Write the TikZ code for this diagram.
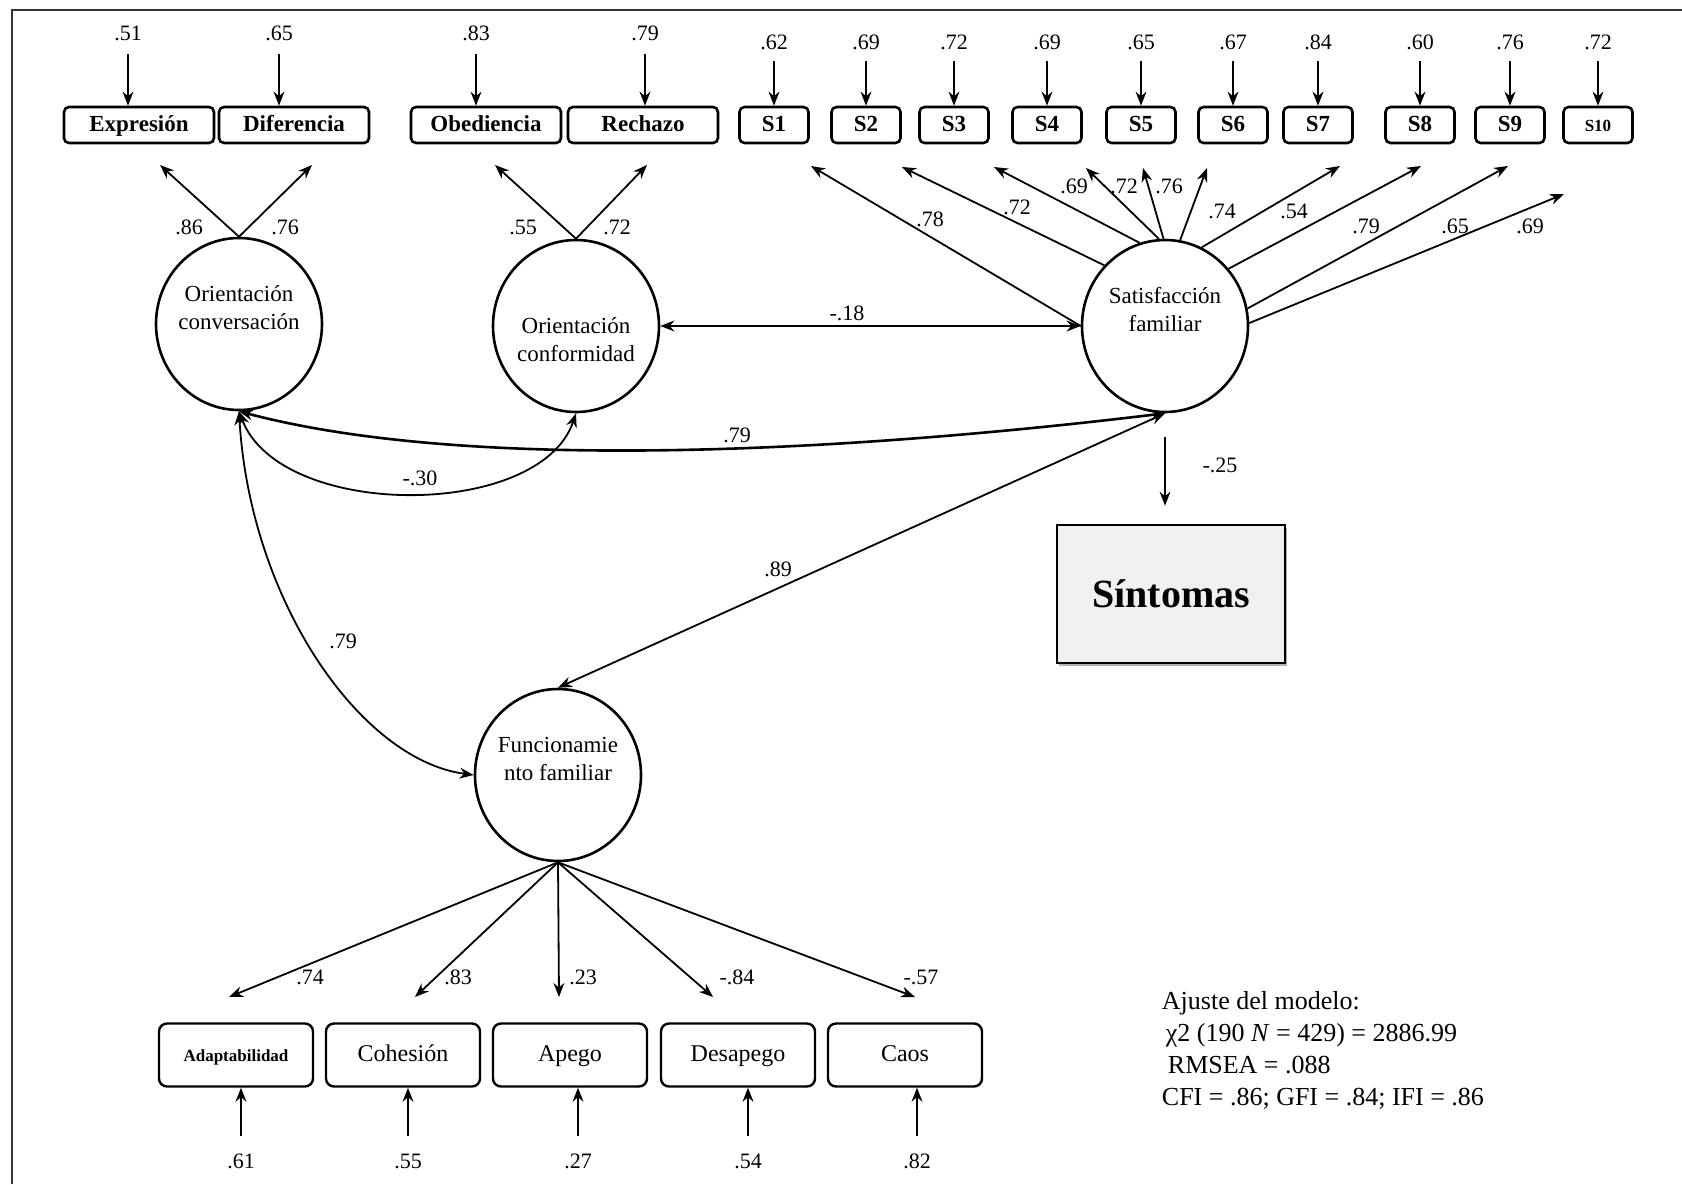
\documentclass[tikz,border=0pt]{standalone}
\usepackage{fontspec}
\setmainfont{Liberation Serif}
\usetikzlibrary{arrows.meta, shapes.geometric, shadows}
\tikzset{
    every node/.append style={font=\fontsize{11}{12}\selectfont}}

\begin{document}
\begin{tikzpicture}
  [x=0.5pt, y=-0.5pt, >={Stealth[length=7pt, width=5.4pt]}, line width=0.9pt,
   lat/.style={ellipse, draw, line width=1.3pt, minimum width=83pt,
     minimum height=86pt, inner sep=0pt, inner xsep=-3pt, align=center,
     font=\fontsize{11.5}{14}\selectfont},
   obs/.style={draw, rounded corners=2.5pt, line width=1.3pt,
     minimum height=18pt, inner sep=0pt, text height=8pt, text depth=2pt,
     font=\fontsize{11.5}{13}\selectfont\bfseries},
   ind/.style={draw, rounded corners=4pt, line width=1.2pt,
     minimum width=77pt, minimum height=31.5pt, inner sep=0pt,
     text height=8.5pt, text depth=2.5pt,
     font=\fontsize{12}{14}\selectfont},
   num/.style={inner sep=1pt}
  ]
  \useasboundingbox (0,0) rectangle (1682,1184);
  \draw [black!80, line width=1pt] (12,1184) -- (12,10) -- (1682,10);

  % latent variables
  \node [lat] (oc) at (239,324) {Orientación\\conversación\\[-2pt]\strut};
  \node [lat] (of) at (576,326) {\strut\\[-2pt]Orientación\\conformidad};
  \node [lat] (sf) at (1165,326) {Satisfacción\\familiar\\[-2pt]\strut};
  \node [lat] (ff) at (558,775) {Funcionamie\\nto familiar\\[-2pt]\strut};

  % indicators, top
  \node [obs, minimum width=75pt] (x1) at (139,125) {Expresión};
  \node [obs, minimum width=75pt] (x2) at (294,125) {Diferencia};
  \node [obs, minimum width=75pt] (x3) at (486,125) {Obediencia};
  \node [obs, minimum width=75pt] (x4) at (643,125) {Rechazo};
  \node [num] (e1) at (128,33) {.51};
  \node [num] (e2) at (279,33) {.65};
  \node [num] (e3) at (476,33) {.83};
  \node [num] (e4) at (645,33) {.79};
  \foreach \from/\to/\w in {e1/x1/1,e2/x2/1.4,e3/x3/1,e4/x4/1.4}
    \draw [->, line width=\w pt, shorten <=5.5pt] (\from) -- (\from |- \to.north);

  \foreach \i/\x/\v/\w in {1/774/.62/1.4, 2/866/.69/0.9, 3/954/.72/0.9,
      4/1047/.69/1.4, 5/1141/.65/0.9, 6/1233/.67/0.9, 7/1318/.84/1.4,
      8/1420/.60/1.4, 9/1510/.76/1.4}{
    \node [obs, minimum width=34.5pt] (s\i) at (\x,125) {S\i};
    \node [num] (es\i) at (\x,42) {\v};
    \draw [->, line width=\w pt, shorten <=4.5pt] (es\i) -- (s\i);
  }
  \node [obs, minimum width=34.5pt, font=\fontsize{8.5}{10}\selectfont\bfseries]
    (s10) at (1598,125) {S10};
  \node [num] (es10) at (1598,42) {.72};
  \draw [->, shorten <=4.5pt] (es10) -- (s10);

  % loadings
  \coordinate (a1) at (160,165);
  \coordinate (a2) at (312,165);
  \coordinate (a3) at (495,165);
  \coordinate (a4) at (647,165);
  \foreach \from/\to in {oc/a1,oc/a2,of/a3,of/a4}
    \draw [->] (\from.north) -- (\to);
  \node [num] (l1) at (189,227) {.86};
  \node [num] (l2) at (285,227) {.76};
  \node [num] (l3) at (523,227) {.55};
  \node [num] (l4) at (617,227) {.72};

  \foreach \x/\y [count=\i] in {811/166, 902/167, 994/167, 1086/168,
      1143/168, 1207/168, 1340/166, 1421/166, 1508/166, 1564/194}
    \coordinate (b\i) at (\x,\y);
  \foreach \a/\to in {180/b1,135/b2,107/b3,94/b4,91/b5,80/b6,65/b7,
      42/b8,12/b9,2/b10}
    \draw [->] (sf.\a) -- (\to);
  \foreach \x/\y/\v [count=\i] in {930/219/.78, 1017/207/.72, 1074/186/.69,
      1124/186/.72, 1169/186/.76, 1222/211/.74, 1294/211/.54,
      1366/226/.79, 1455/226/.65, 1530/226/.69}
    \node [num] (m\i) at (\x,\y) {\v};

  % correlations
  \draw [<->, line width=1.3pt] (of) -- (sf);
  \draw [<->, line width=1.3pt] (oc.south) .. controls (460,470) and (820,455) .. (sf.south);
  \draw [<->] (oc.south) .. controls (280,520) and (540,520) .. (of.south);
  \draw [<->] (oc.south) .. controls (250,600) and (360,760) .. (ff.west);
  \draw [<->] (sf.south) -- (ff.north);
  \node [num] (k1) at (847,313) {-.18};
  \node [num] (k2) at (737,435) {.79};
  \node [num] (k3) at (420,478) {-.30};
  \node [num] (k4) at (343,641) {.79};
  \node [num] (k5) at (778,569) {.89};

  % outcome
  \node [draw, line width=1.3pt, fill=gray!12, minimum width=114pt,
    minimum height=69pt, drop shadow={shadow xshift=1pt, shadow yshift=-1.5pt, opacity=.6},
    font=\fontsize{20}{24}\selectfont\bfseries] (sy) at (1171,594) {Síntomas};
  \draw [->, shorten <=12pt, shorten >=9pt] (sf.south) -- (sf.south |- sy.north);
  \node [num] (k6) at (1220,465) {-.25};

  % indicators, bottom
  \node [ind] (y1) at (236,1055) {\fontsize{8.5}{10}\selectfont\bfseries Adaptabilidad};
  \node [ind] (y2) at (403,1055) {Cohesión};
  \node [ind] (y3) at (570,1055) {Apego};
  \node [ind] (y4) at (738,1055) {Desapego};
  \node [ind] (y5) at (905,1055) {Caos};
  \foreach \x [count=\i] in {229,415,559,713,915}
    \coordinate (c\i) at (\x,997);
  \foreach \to in {c1,c2,c3,c4,c5}
    \draw [->] (ff.south) -- (\to);
  \node [num] (n1) at (310,977) {.74};
  \node [num] (n2) at (458,977) {.83};
  \node [num] (n3) at (583,977) {.23};
  \node [num] (n4) at (737,977) {-.84};
  \node [num] (n5) at (921,977) {-.57};

  \foreach \i/\x/\v/\w in {1/241/.61/0.9, 2/408/.55/1.4, 3/578/.27/0.9,
      4/748/.54/1.4, 5/917/.82/0.9}{
    \node [num] (d\i) at (\x,1161) {\v};
    \draw [->, line width=\w pt, shorten <=7.5pt] (d\i) -- (d\i |- y\i.south);
  }

  % fit
  \node [anchor=north west, align=left, inner sep=0pt,
    font=\fontsize{13}{16}\selectfont] (gof) at (1161,991)
    {Ajuste del modelo:\\ \hspace*{2pt}χ2 (190 \textit{N} = 429) = 2886.99\\
     \hspace*{3pt}RMSEA = .088\\CFI = .86; GFI = .84; IFI = .86};
\end{tikzpicture}
\end{document}
